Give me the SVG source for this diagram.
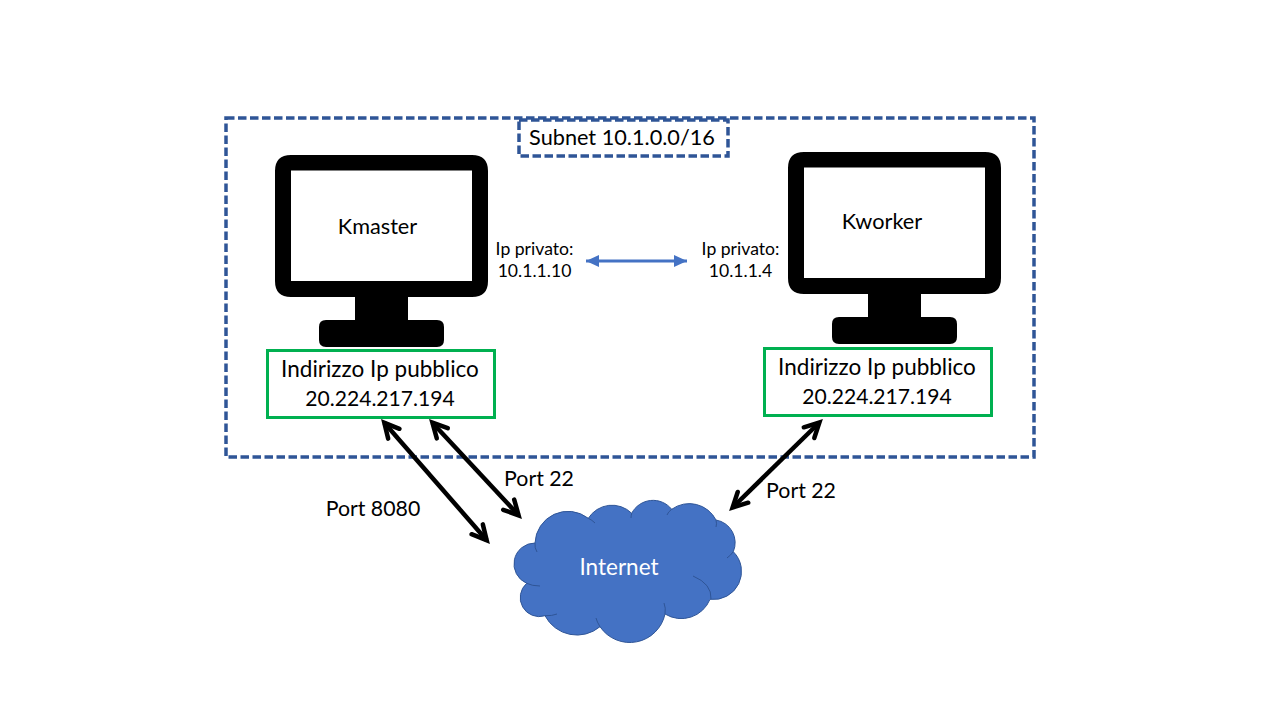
<svg xmlns="http://www.w3.org/2000/svg" width="1280" height="720" viewBox="0 0 1280 720">
<style>
text{font-family:"Lato","Open Sans","Liberation Sans",sans-serif;fill:#000;text-anchor:middle}
.l{font-size:21.700px}
.p{font-size:22.500px}
.n{font-size:21.100px}
.t{font-size:21.300px}
.s{font-size:17.600px}
.dash{fill:none;stroke:#2F5597;stroke-width:3.500;stroke-dasharray:8.500 3.500}
.green{fill:#fff;stroke:#00B050;stroke-width:3}
.blk{stroke:#000;stroke-width:4.500;fill:none}
</style>
<defs>
<marker id="open" markerUnits="userSpaceOnUse" markerWidth="30" markerHeight="30" refX="20" refY="15" orient="auto-start-reverse"><path d="M5.500 7.500L20 15L5.500 22.500" fill="none" stroke="#000" stroke-width="4.500" stroke-linecap="round" stroke-linejoin="miter"/></marker>
<marker id="tri" markerUnits="userSpaceOnUse" markerWidth="14" markerHeight="14" refX="13" refY="7" orient="auto-start-reverse"><path d="M0 1L13 7L0 13Z" fill="#4472C4"/></marker>
<g id="monitor">
<path fill-rule="evenodd" d="M291 155H472Q488 155 488 171V281Q488 297 472 297H408V320H437Q444 320 444 327V340Q444 347 437 347H326Q319 347 319 340V327Q319 320 326 320H355V297H291Q275 297 275 281V171Q275 155 291 155ZM291 170.500V281H472V170.500Z" fill="#000"/>
</g>
</defs>
<rect width="1280" height="720" fill="#fff"/>
<g id="subnet">
<rect class="dash" x="226" y="118" width="808" height="339"/>
</g>
<g id="subnet-label">
<rect class="dash" x="519" y="120" width="209" height="36" style="fill:#fff"/>
<text class="l" x="622" y="145">Subnet 10.1.0.0/16</text>
</g>
<g id="kmaster">
<use href="#monitor"/>
<text class="l" x="377.500" y="234">Kmaster</text>
</g>
<g id="kworker">
<use href="#monitor" x="513" y="-3"/>
<text class="l" x="882" y="229">Kworker</text>
</g>
<g id="ip-kmaster">
<text class="s" x="534.500" y="255">Ip privato:</text>
<text class="s" x="534.500" y="277">10.1.1.10</text>
</g>
<g id="ip-kworker">
<text class="s" x="740.500" y="255">Ip privato:</text>
<text class="s" x="740.500" y="277">10.1.1.4</text>
</g>
<g id="pub-kmaster">
<rect class="green" x="267.500" y="350.500" width="227" height="67"/>
<text class="p" x="380" y="377">Indirizzo Ip pubblico</text>
<text class="n" x="380" y="406">20.224.217.194</text>
</g>
<g id="pub-kworker">
<rect class="green" x="764.500" y="348.500" width="227" height="67"/>
<text class="p" x="877" y="375">Indirizzo Ip pubblico</text>
<text class="n" x="877" y="404">20.224.217.194</text>
</g>
<g id="internet">
<path d="M535 543A33 33 0 0 1 588.300 518.300A28 28 0 0 1 631.700 513.300A24 24 0 0 1 671.700 509.300A30 30 0 0 1 716 520A23 23 0 0 1 733.300 551.700A28 28 0 0 1 710 599.300A31 31 0 0 1 665 614A36 36 0 0 1 600 626.700A36 36 0 0 1 545 615.700A19 19 0 0 1 526.700 583.300A21 21 0 0 1 535 543Z" fill="#4472C4" stroke="#2F5597" stroke-width="1"/>
<path d="M535 543Q534.500 548 537 552M526.700 583.300Q532 586 540 586M545 615.700Q552 616 557 614M600 626.700Q597 622 596 618M665 614Q666 608 664 603M711 599Q712 584 693 576M733.300 551.700Q731 555 727 558M716 520Q717 524 716 527M671.700 509.300Q668 512 667 515M631.700 513.300Q631 516 631 518M588.300 518.300Q592 520 595 523" fill="none" stroke="#2F5597" stroke-width="1"/>
<text class="p" x="619" y="575" style="fill:#fff">Internet</text>
</g>
<g id="connectors">
<line class="blk" x1="384.300" y1="422.800" x2="486.700" y2="540.200" marker-start="url(#open)" marker-end="url(#open)"/>
<line class="blk" x1="432.400" y1="422.700" x2="518.600" y2="515.300" marker-start="url(#open)" marker-end="url(#open)"/>
<line class="blk" x1="819.400" y1="422.500" x2="732.600" y2="507.500" marker-start="url(#open)" marker-end="url(#open)"/>
<line x1="586" y1="261" x2="687" y2="261" stroke="#4472C4" stroke-width="3" marker-start="url(#tri)" marker-end="url(#tri)"/>
</g>
<g id="labels">
<text class="t" x="373" y="516">Port 8080</text>
<text class="t" x="539" y="486">Port 22</text>
<text class="t" x="801" y="498">Port 22</text>
</g>
</svg>
